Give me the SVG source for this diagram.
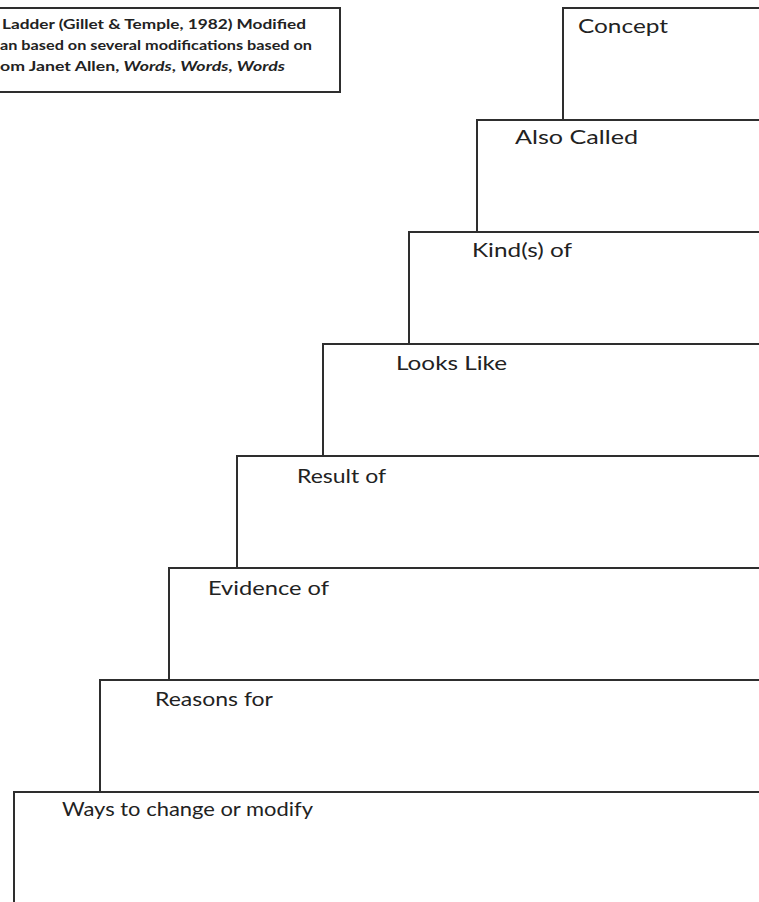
<svg xmlns="http://www.w3.org/2000/svg" width="759" height="902" viewBox="0 0 759 902">
  <style>
    .step { fill: #ffffff; stroke: #2e2e2e; stroke-width: 2; }
    .lbl { font-family: "Lato", "Open Sans", "Liberation Sans", sans-serif; font-size: 19px; fill: #222222; }
    .note { font-family: "Lato", "Open Sans", "Liberation Sans", sans-serif; font-size: 13.5px; font-weight: bold; fill: #222222; }
  </style>
  <rect x="0" y="0" width="759" height="902" fill="#ffffff"/>
  <g id="connectors"></g>
  <g id="note">
    <rect class="step" x="-10" y="8" width="350" height="84"/>
    <text class="note" x="2" y="29" textLength="304" lengthAdjust="spacingAndGlyphs">Ladder (Gillet &amp; Temple, 1982) Modified</text>
    <text class="note" x="0" y="50" textLength="312" lengthAdjust="spacingAndGlyphs">an based on several modifications based on</text>
    <text class="note" x="0" y="71" textLength="285" lengthAdjust="spacingAndGlyphs">om Janet Allen, <tspan font-style="italic">Words</tspan>, <tspan font-style="italic">Words</tspan>, <tspan font-style="italic">Words</tspan></text>
  </g>
  <g id="step-concept">
    <rect class="step" x="563" y="8" width="220" height="112"/>
    <text class="lbl" x="578" y="33" textLength="90" lengthAdjust="spacingAndGlyphs">Concept</text>
  </g>
  <g id="step-also-called">
    <rect class="step" x="477" y="120" width="306" height="112"/>
    <text class="lbl" x="515" y="144" textLength="123" lengthAdjust="spacingAndGlyphs">Also Called</text>
  </g>
  <g id="step-kinds-of">
    <rect class="step" x="409" y="232" width="374" height="112"/>
    <text class="lbl" x="472" y="257" textLength="100" lengthAdjust="spacingAndGlyphs">Kind(s) of</text>
  </g>
  <g id="step-looks-like">
    <rect class="step" x="323" y="344" width="460" height="112"/>
    <text class="lbl" x="396" y="370" textLength="111" lengthAdjust="spacingAndGlyphs">Looks Like</text>
  </g>
  <g id="step-result-of">
    <rect class="step" x="237" y="456" width="546" height="112"/>
    <text class="lbl" x="297" y="483" textLength="89" lengthAdjust="spacingAndGlyphs">Result of</text>
  </g>
  <g id="step-evidence-of">
    <rect class="step" x="169" y="568" width="614" height="112"/>
    <text class="lbl" x="208" y="595" textLength="121" lengthAdjust="spacingAndGlyphs">Evidence of</text>
  </g>
  <g id="step-reasons-for">
    <rect class="step" x="100" y="680" width="683" height="112"/>
    <text class="lbl" x="155" y="706" textLength="118" lengthAdjust="spacingAndGlyphs">Reasons for</text>
  </g>
  <g id="step-ways-to-change">
    <rect class="step" x="14" y="792" width="769" height="140"/>
    <text class="lbl" x="62" y="816" textLength="251" lengthAdjust="spacingAndGlyphs">Ways to change or modify</text>
  </g>
</svg>
